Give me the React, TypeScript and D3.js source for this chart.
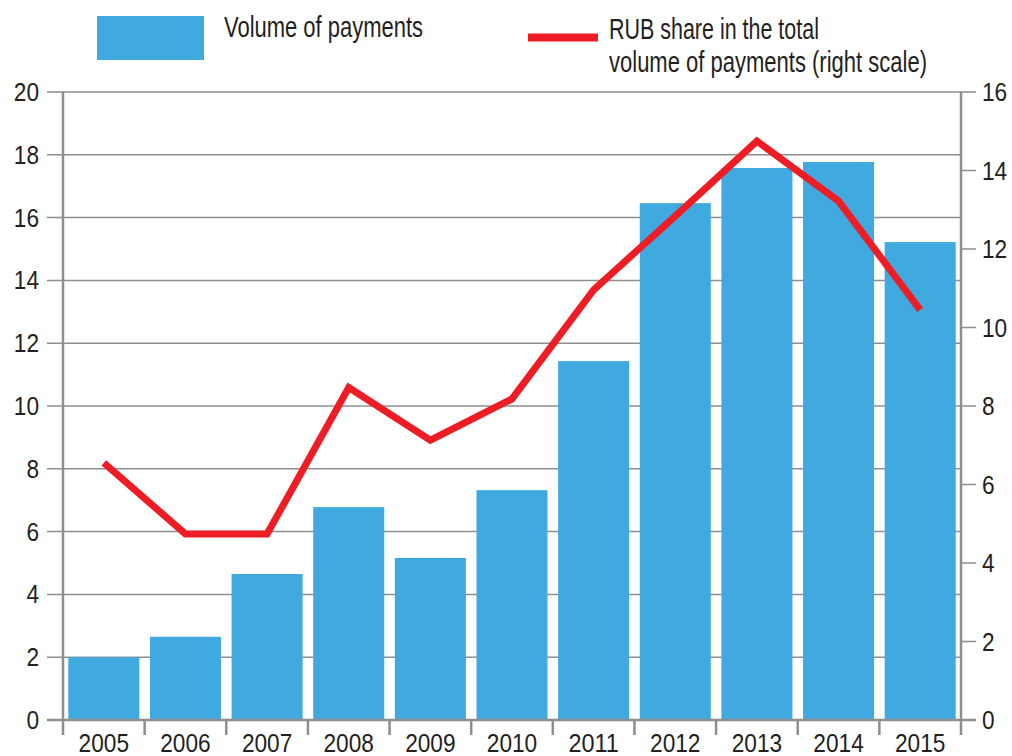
import React, { useLayoutEffect, useRef, useState } from "react";
import * as d3 from "d3";

const years = ["2005","2006","2007","2008","2009","2010","2011","2012","2013","2014","2015"];
const volume = [2.0, 2.65, 4.65, 6.78, 5.16, 7.32, 11.43, 16.46, 17.58, 17.77, 15.22];
const rubShare = [6.55, 4.74, 4.74, 8.47, 7.13, 8.18, 10.96, 12.84, 14.75, 13.22, 10.45];
const leftTicks = [0, 2, 4, 6, 8, 10, 12, 14, 16, 18, 20];
const rightTicks = [0, 2, 4, 6, 8, 10, 12, 14, 16];
const legendBar = "Volume of payments";
const legendLine = ["RUB share in the total", "volume of payments (right scale)"];

const W = 1012, H = 756;
const X0 = 63, X1 = 961, Y0 = 720, Y1 = 92;
const FONT = "'Liberation Sans', Arial, sans-serif";
const TEXT = "#231f20";
const AXIS = "#8e8e8e";
const BLUE = "#3fa9e0";
const RED = "#ee1d25";
const DIGIT_W = 12.6;

function FitText(props: { x: number; y: number; width: number; fontSize: number; children: string }) {
  const ref = useRef<SVGTextElement>(null);
  const [sx, setSx] = useState(0.75);
  useLayoutEffect(() => {
    if (ref.current) {
      const n = ref.current.getComputedTextLength();
      if (n > 0) setSx(props.width / n);
    }
  }, [props.width, props.children]);
  return (
    <text ref={ref} transform={`translate(${props.x},${props.y}) scale(${sx},1)`} fontSize={props.fontSize} fill={TEXT}>
      {props.children}
    </text>
  );
}

export default function App() {
  const x = d3.scaleBand<string>().domain(years).range([X0, X1]).paddingInner(0.13).paddingOuter(0.065);
  const yL = d3.scaleLinear().domain([0, 20]).range([Y0, Y1]);
  const yR = d3.scaleLinear().domain([0, 16]).range([Y0, Y1]);
  const cx = (d: string) => (x(d) as number) + x.bandwidth() / 2;
  const line = d3.line<number>().x((_, i) => cx(years[i])).y((v) => yR(v));
  const boundaries = d3.range(years.length + 1).map((i) => X0 + i * ((X1 - X0) / years.length));

  return (
    <div style={{ position: "absolute", left: 0, top: 0 }}>
      <svg width={W} height={H} style={{ display: "block", background: "#fff" }} fontFamily={FONT}>
        {leftTicks.map((t) => (
          <line key={"g" + t} x1={47} x2={X1} y1={yL(t)} y2={yL(t)} stroke={AXIS} strokeWidth={1.5} />
        ))}
        {rightTicks.map((t) => (
          <line key={"r" + t} x1={X1} x2={976} y1={yR(t)} y2={yR(t)} stroke={AXIS} strokeWidth={1.5} />
        ))}
        {years.map((yr, i) => (
          <rect key={yr} x={x(yr)} y={yL(volume[i])} width={x.bandwidth()} height={Y0 - yL(volume[i])} fill={BLUE} />
        ))}
        <line x1={47} x2={976} y1={Y0} y2={Y0} stroke={AXIS} strokeWidth={2.5} />
        <line x1={X0} x2={X0} y1={Y1} y2={735} stroke={AXIS} strokeWidth={2.5} />
        <line x1={X1} x2={X1} y1={Y1} y2={735} stroke={AXIS} strokeWidth={2.5} />
        {boundaries.slice(1, -1).map((b, i) => (
          <line key={"b" + i} x1={b} x2={b} y1={Y0} y2={735} stroke={AXIS} strokeWidth={2.5} />
        ))}
        <path d={line(rubShare) || ""} fill="none" stroke={RED} strokeWidth={7} strokeLinejoin="miter" strokeMiterlimit={10} />
        {leftTicks.map((t) => (
          <text key={"lt" + t} x={39} y={yL(t)} dy="0.36em" textAnchor="end" fontSize={25} fill={TEXT}
            textLength={String(t).length * DIGIT_W} lengthAdjust="spacingAndGlyphs">{t}</text>
        ))}
        {rightTicks.map((t) => (
          <text key={"rt" + t} x={982} y={yR(t)} dy="0.36em" textAnchor="start" fontSize={25} fill={TEXT}
            textLength={String(t).length * DIGIT_W} lengthAdjust="spacingAndGlyphs">{t}</text>
        ))}
        {years.map((yr) => (
          <text key={"xt" + yr} x={cx(yr)} y={752} textAnchor="middle" fontSize={25} fill={TEXT}
            textLength={yr.length * DIGIT_W} lengthAdjust="spacingAndGlyphs">{yr}</text>
        ))}
        <rect x={97} y={16} width={107} height={44} fill={BLUE} />
        <FitText x={224} y={37} width={199} fontSize={30}>{legendBar}</FitText>
        <line x1={528} x2={598} y1={37.5} y2={37.5} stroke={RED} strokeWidth={8} />
        <FitText x={609} y={39} width={210} fontSize={29}>{legendLine[0]}</FitText>
        <FitText x={609} y={72} width={318} fontSize={29}>{legendLine[1]}</FitText>
      </svg>
    </div>
  );
}
